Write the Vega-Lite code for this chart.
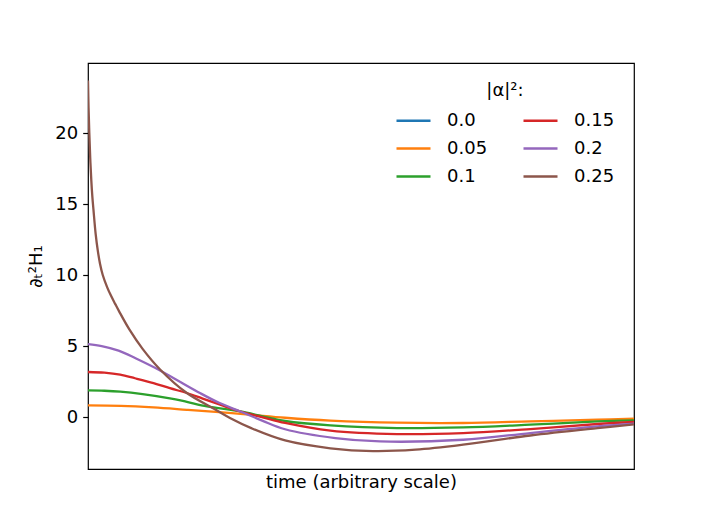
{
  "$schema": "https://vega.github.io/schema/vega-lite/v6.json",
  "autosize": "none",
  "padding": {"left": 88, "top": 63, "right": 70, "bottom": 59},
  "width": 546,
  "height": 406,
  "background": "white",
  "config": {
    "font": "DejaVu Sans",
    "view": {"stroke": "black", "strokeWidth": 1.2},
    "axis": {"grid": false, "domain": false, "labelFont": "DejaVu Sans", "titleFont": "DejaVu Sans", "labelColor": "black", "titleColor": "black", "tickColor": "black"},
    "legend": {"labelFont": "DejaVu Sans", "titleFont": "DejaVu Sans"}
  },
  "data": {
    "values": [
      {"t": 0, "v": 0.82, "s": "0.05"},
      {"t": 0.6, "v": 0.79, "s": "0.05"},
      {"t": 1.2, "v": 0.68, "s": "0.05"},
      {"t": 1.81, "v": 0.51, "s": "0.05"},
      {"t": 2.4, "v": 0.34, "s": "0.05"},
      {"t": 2.95, "v": 0.17, "s": "0.05"},
      {"t": 3.61, "v": -0.05, "s": "0.05"},
      {"t": 4.44, "v": -0.25, "s": "0.05"},
      {"t": 5.66, "v": -0.4, "s": "0.05"},
      {"t": 6.87, "v": -0.42, "s": "0.05"},
      {"t": 8.1, "v": -0.31, "s": "0.05"},
      {"t": 9.33, "v": -0.19, "s": "0.05"},
      {"t": 10, "v": -0.12, "s": "0.05"},

      {"t": 0, "v": 1.87, "s": "0.1"},
      {"t": 0.3, "v": 1.85, "s": "0.1"},
      {"t": 0.59, "v": 1.79, "s": "0.1"},
      {"t": 1.0, "v": 1.62, "s": "0.1"},
      {"t": 1.5, "v": 1.32, "s": "0.1"},
      {"t": 1.81, "v": 1.07, "s": "0.1"},
      {"t": 2.18, "v": 0.75, "s": "0.1"},
      {"t": 2.79, "v": 0.39, "s": "0.1"},
      {"t": 3.2, "v": 0.05, "s": "0.1"},
      {"t": 3.61, "v": -0.28, "s": "0.1"},
      {"t": 4.44, "v": -0.59, "s": "0.1"},
      {"t": 5.66, "v": -0.78, "s": "0.1"},
      {"t": 6.87, "v": -0.73, "s": "0.1"},
      {"t": 8.1, "v": -0.54, "s": "0.1"},
      {"t": 9.33, "v": -0.31, "s": "0.1"},
      {"t": 10, "v": -0.24, "s": "0.1"},

      {"t": 0, "v": 3.17, "s": "0.15"},
      {"t": 0.3, "v": 3.12, "s": "0.15"},
      {"t": 0.59, "v": 2.98, "s": "0.15"},
      {"t": 0.86, "v": 2.73, "s": "0.15"},
      {"t": 1.2, "v": 2.39, "s": "0.15"},
      {"t": 1.5, "v": 2.03, "s": "0.15"},
      {"t": 1.81, "v": 1.69, "s": "0.15"},
      {"t": 2.1, "v": 1.3, "s": "0.15"},
      {"t": 2.42, "v": 0.87, "s": "0.15"},
      {"t": 2.79, "v": 0.39, "s": "0.15"},
      {"t": 3.2, "v": -0.02, "s": "0.15"},
      {"t": 3.61, "v": -0.42, "s": "0.15"},
      {"t": 4.44, "v": -0.96, "s": "0.15"},
      {"t": 5.66, "v": -1.2, "s": "0.15"},
      {"t": 6.87, "v": -1.13, "s": "0.15"},
      {"t": 8.1, "v": -0.85, "s": "0.15"},
      {"t": 9.33, "v": -0.49, "s": "0.15"},
      {"t": 10, "v": -0.35, "s": "0.15"},

      {"t": 0, "v": 5.14, "s": "0.2"},
      {"t": 0.25, "v": 5.0, "s": "0.2"},
      {"t": 0.56, "v": 4.68, "s": "0.2"},
      {"t": 0.88, "v": 4.12, "s": "0.2"},
      {"t": 1.32, "v": 3.28, "s": "0.2"},
      {"t": 1.7, "v": 2.45, "s": "0.2"},
      {"t": 2.05, "v": 1.69, "s": "0.2"},
      {"t": 2.4, "v": 1.0, "s": "0.2"},
      {"t": 2.79, "v": 0.39, "s": "0.2"},
      {"t": 3.2, "v": -0.27, "s": "0.2"},
      {"t": 3.61, "v": -0.86, "s": "0.2"},
      {"t": 4.53, "v": -1.48, "s": "0.2"},
      {"t": 5.35, "v": -1.72, "s": "0.2"},
      {"t": 6.87, "v": -1.6, "s": "0.2"},
      {"t": 8.1, "v": -1.13, "s": "0.2"},
      {"t": 9.33, "v": -0.66, "s": "0.2"},
      {"t": 10, "v": -0.47, "s": "0.2"},

      {"t": 0, "v": 23.7, "s": "0.25"},
      {"t": 0.01, "v": 21.8, "s": "0.25"},
      {"t": 0.024, "v": 20, "s": "0.25"},
      {"t": 0.04, "v": 18.3, "s": "0.25"},
      {"t": 0.06, "v": 16.7, "s": "0.25"},
      {"t": 0.08, "v": 15.5, "s": "0.25"},
      {"t": 0.1, "v": 14.6, "s": "0.25"},
      {"t": 0.14, "v": 12.9, "s": "0.25"},
      {"t": 0.18, "v": 11.7, "s": "0.25"},
      {"t": 0.22, "v": 10.8, "s": "0.25"},
      {"t": 0.27, "v": 10.0, "s": "0.25"},
      {"t": 0.35, "v": 9.15, "s": "0.25"},
      {"t": 0.42, "v": 8.55, "s": "0.25"},
      {"t": 0.5, "v": 7.95, "s": "0.25"},
      {"t": 0.57, "v": 7.44, "s": "0.25"},
      {"t": 0.76, "v": 6.15, "s": "0.25"},
      {"t": 1.0, "v": 4.8, "s": "0.25"},
      {"t": 1.32, "v": 3.35, "s": "0.25"},
      {"t": 1.81, "v": 1.69, "s": "0.25"},
      {"t": 2.3, "v": 0.6, "s": "0.25"},
      {"t": 2.6, "v": -0.07, "s": "0.25"},
      {"t": 3.0, "v": -0.8, "s": "0.25"},
      {"t": 3.61, "v": -1.65, "s": "0.25"},
      {"t": 4.44, "v": -2.2, "s": "0.25"},
      {"t": 5.22, "v": -2.4, "s": "0.25"},
      {"t": 6.0, "v": -2.3, "s": "0.25"},
      {"t": 6.87, "v": -1.95, "s": "0.25"},
      {"t": 8.1, "v": -1.3, "s": "0.25"},
      {"t": 9.33, "v": -0.78, "s": "0.25"},
      {"t": 10, "v": -0.52, "s": "0.25"}
    ]
  },
  "mark": {"type": "line", "strokeWidth": 2.3, "interpolate": "catmull-rom", "clip": true},
  "encoding": {
    "x": {
      "field": "t",
      "type": "quantitative",
      "scale": {"domain": [0, 10], "nice": false},
      "axis": {"labels": false, "ticks": false, "title": "time (arbitrary scale)", "titleFontSize": 18, "titleFontWeight": "normal", "titlePadding": 4}
    },
    "y": {
      "field": "v",
      "type": "quantitative",
      "scale": {"domain": [-3.66, 24.93], "nice": false, "zero": false},
      "axis": {
        "values": [0, 5, 10, 15, 20],
        "labelFontSize": 18,
        "tickSize": 5.3,
        "tickWidth": 1.2,
        "labelPadding": 5,
        "title": "∂ₜ²H₁",
        "titleFontSize": 18,
        "titleFontWeight": "normal",
        "titlePadding": 9
      }
    },
    "color": {
      "field": "s",
      "type": "nominal",
      "scale": {
        "domain": ["0.0", "0.05", "0.1", "0.15", "0.2", "0.25"],
        "range": ["#1f77b4", "#ff7f0e", "#2ca02c", "#d62728", "#9467bd", "#8c564b"]
      },
      "legend": {
        "title": "|α|²:",
        "orient": "none",
        "legendX": 307,
        "legendY": 19,
        "columns": 2,
        "columnPadding": 30,
        "rowPadding": 0,
        "symbolType": "stroke",
        "symbolSize": 1156,
        "symbolStrokeWidth": 2.3,
        "labelFontSize": 18,
        "labelColor": "black",
        "labelOffset": 15,
        "titleFontSize": 18,
        "titleFontWeight": "normal",
        "titleColor": "black",
        "titleAnchor": "middle",
        "titlePadding": 2
      }
    }
  }
}
